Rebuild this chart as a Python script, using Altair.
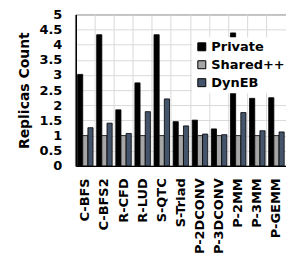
import altair as alt
import pandas as pd

categories = ["C-BFS", "C-BFS2", "R-CFD", "R-LUD", "S-QTC", "S-Triad",
              "P-2DCONV", "P-3DCONV", "P-2MM", "P-3MM", "P-GEMM"]
series = ["Private", "Shared++", "DynEB"]
private = [3.02, 4.33, 1.85, 2.74, 4.33, 1.46, 1.51, 1.22, 4.39, 2.23, 2.25]
shared = [1.0] * 11
dyneb = [1.26, 1.41, 1.07, 1.79, 2.21, 1.32, 1.05, 1.03, 1.76, 1.16, 1.12]
colors = ["#000000", "#a6a6a6", "#44546a"]
y_ticks = [0, 0.5, 1, 1.5, 2, 2.5, 3, 3.5, 4, 4.5, 5]

rows = []
for i, c in enumerate(categories):
    for s, vals in zip(series, [private, shared, dyneb]):
        rows.append({"bench": c, "config": s, "value": vals[i]})
df = pd.DataFrame(rows)

FONT = "DejaVu Sans"
H = 152

x_scale = alt.Scale(domain=categories, paddingInner=0, paddingOuter=0)
y_scale = alt.Scale(domain=[0, 5], nice=False)

y_axis = alt.Axis(title="Replicas Count", values=y_ticks, format="~g",
                  labelOverlap=False, labelFlush=False,
                  labelFont=FONT, labelFontWeight="bold", labelFontSize=13,
                  labelColor="#000000", ticks=False, tickSize=0,
                  labelPadding=14, titleFont=FONT, titleFontWeight="bold",
                  titleFontSize=14, titleColor="#000000",
                  titleX=-51, titleY=H / 2, titleBaseline="middle",
                  titleAngle=-90, gridColor="#d9d9d9", gridWidth=1,
                  domainColor="#000000", domainWidth=1.5)

bars = alt.Chart(df).mark_bar(stroke="#000000", strokeWidth=0.8).encode(
    x=alt.X("bench:N", scale=x_scale, sort=categories,
            axis=alt.Axis(title=None, orient="bottom", labelAngle=-90,
                          labelFont=FONT, labelOverlap=False,
                          labelFontWeight="bold", labelFontSize=13,
                          labelColor="#000000", ticks=False, tickSize=0,
                          labelPadding=12, grid=False, domainColor="#000000",
                          domainWidth=1.5)),
    xOffset=alt.XOffset("config:N", sort=series,
                        scale=alt.Scale(domain=series, paddingInner=0, paddingOuter=0.35)),
    y=alt.Y("value:Q", scale=y_scale, axis=y_axis),
    color=alt.Color("config:N", sort=series,
                    scale=alt.Scale(domain=series, range=colors),
                    legend=alt.Legend(title=None, orient="none", legendX=117, legendY=23,
                                      fillColor="#ffffff", padding=3,
                                      symbolType="square", symbolSize=64,
                                      symbolStrokeColor="#000000", symbolStrokeWidth=1,
                                      labelFont=FONT, labelFontWeight="bold",
                                      labelFontSize=13, labelColor="#000000",
                                      rowPadding=4, labelOffset=3)),
)

grid = alt.Chart(df).mark_bar(opacity=0).encode(
    x=alt.X("bench:N", scale=x_scale, sort=categories,
            axis=alt.Axis(title=None, orient="bottom", labels=False, ticks=False,
                          domain=False, grid=True, bandPosition=0,
                          gridColor="#d9d9d9", gridWidth=1)),
    y=alt.Y("value:Q", scale=y_scale, axis=y_axis),
)

chart = alt.layer(bars, grid).resolve_axis(x="independent").properties(
    width=211, height=H,
    autosize=alt.AutoSizeParams(type="none"),
    padding={"left": 68, "top": 6, "right": 0, "bottom": 90},
).configure_view(stroke="#595959", strokeWidth=1)

chart.save("out.html", embed_options={"renderer": "svg", "actions": False})
